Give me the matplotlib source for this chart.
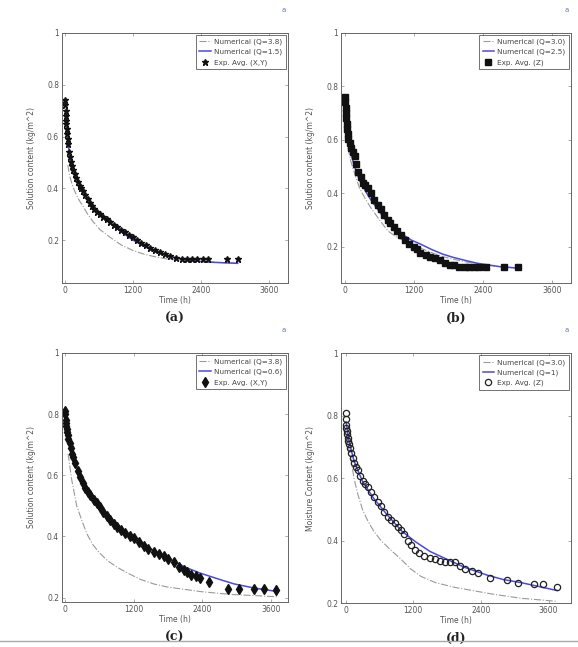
import matplotlib
matplotlib.use('Agg')
import matplotlib.pyplot as plt

# panel (a)
a_exp_t = [0, 5, 10, 15, 20, 25, 30, 40, 50, 60, 75, 90, 110, 130, 150, 175, 200, 230, 260, 290, 320, 360, 400, 440,
           480, 520, 570, 620, 680, 740, 800, 860, 920, 990, 1060, 1130, 1200, 1270, 1350, 1430, 1510, 1590, 1680,
           1770, 1860, 1960, 2060, 2150, 2250, 2330, 2430, 2520, 2860, 3050]
a_exp_y = [0.74, 0.72, 0.70, 0.68, 0.66, 0.65, 0.63, 0.61, 0.59, 0.57, 0.54, 0.52, 0.50, 0.485, 0.47, 0.455, 0.44, 0.425,
           0.41, 0.40, 0.39, 0.375, 0.36, 0.345, 0.33, 0.32, 0.31, 0.30, 0.29, 0.28, 0.27, 0.26, 0.25, 0.24, 0.23,
           0.22, 0.21, 0.20, 0.19, 0.18, 0.17, 0.16, 0.152, 0.145, 0.138, 0.132, 0.128, 0.125, 0.125, 0.125, 0.125,
           0.125, 0.125, 0.125]
a_low_t = [60, 100, 150, 200, 300, 400, 500, 600, 800, 1000, 1200, 1400, 1600, 1800, 2000, 2200, 2400, 2600, 2800, 3050]
a_low_y = [0.56, 0.52, 0.48, 0.45, 0.40, 0.36, 0.33, 0.305, 0.265, 0.23, 0.20, 0.175, 0.155, 0.14, 0.13, 0.122, 0.117,
           0.114, 0.112, 0.11]
a_high_t = [50, 80, 120, 160, 210, 260, 320, 400, 500, 620, 800, 1000, 1200, 1400, 1600, 1800, 2000, 2400, 2800, 3050]
a_high_y = [0.49, 0.45, 0.42, 0.395, 0.37, 0.35, 0.33, 0.30, 0.27, 0.24, 0.21, 0.18, 0.16, 0.145, 0.135, 0.127, 0.122,
            0.117, 0.113, 0.11]

# panel (b)
b_exp_t = [0, 5, 10, 15, 20, 30, 40, 50, 60, 80, 100, 130, 165, 190, 230, 270, 310, 350, 395, 450, 510, 570, 620, 680,
           740, 790, 850, 910, 980, 1050, 1120, 1195, 1250, 1310, 1400, 1480, 1560, 1650, 1740, 1820, 1900, 1990,
           2080, 2160, 2250, 2330, 2450, 2760, 3000]
b_exp_y = [0.76, 0.74, 0.72, 0.70, 0.68, 0.66, 0.64, 0.62, 0.605, 0.59, 0.57, 0.555, 0.54, 0.51, 0.48, 0.46, 0.44, 0.43,
           0.42, 0.40, 0.375, 0.355, 0.34, 0.32, 0.30, 0.29, 0.275, 0.26, 0.245, 0.225, 0.21, 0.20, 0.19, 0.177, 0.17,
           0.163, 0.156, 0.15, 0.14, 0.133, 0.13, 0.125, 0.125, 0.125, 0.125, 0.125, 0.125, 0.125, 0.125]
b_low_t = [50, 100, 165, 250, 350, 450, 600, 740, 900, 1150, 1310, 1500, 1700, 1880, 2100, 2300, 2450, 2700, 3000]
b_low_y = [0.60, 0.55, 0.50, 0.45, 0.41, 0.375, 0.33, 0.29, 0.26, 0.225, 0.21, 0.19, 0.172, 0.16, 0.148, 0.138, 0.133,
           0.125, 0.12]
b_high_t = [50, 100, 165, 250, 350, 450, 600, 740, 900, 1150, 1310, 1500, 1700, 1900, 2100, 2400, 2700, 3000]
b_high_y = [0.57, 0.52, 0.475, 0.42, 0.38, 0.345, 0.30, 0.26, 0.235, 0.21, 0.195, 0.178, 0.163, 0.152, 0.143, 0.133,
            0.125, 0.12]

# panel (c)
c_exp_t = [0, 5, 10, 15, 20, 30, 40, 50, 60, 80, 100, 118, 140, 176, 220, 264, 310, 352, 400, 440, 500, 557, 610, 670,
           730, 790, 850, 908, 980, 1055, 1130, 1200, 1290, 1375, 1460, 1550, 1640, 1725, 1810, 1900, 1990, 2075,
           2140, 2200, 2290, 2370, 2515, 2845, 3040, 3300, 3480, 3690]
c_exp_y = [0.81, 0.80, 0.78, 0.77, 0.76, 0.75, 0.74, 0.73, 0.72, 0.705, 0.69, 0.67, 0.66, 0.64, 0.615, 0.595, 0.575,
           0.56, 0.545, 0.535, 0.52, 0.51, 0.495, 0.48, 0.468, 0.455, 0.442, 0.43, 0.42, 0.41, 0.40, 0.395, 0.383,
           0.37, 0.36, 0.35, 0.343, 0.335, 0.325, 0.315, 0.30, 0.29, 0.283, 0.275, 0.27, 0.265, 0.25, 0.23, 0.23,
           0.228, 0.228, 0.225]
c_low_t = [60, 150, 250, 400, 600, 800, 1000, 1200, 1500, 1800, 2100, 2370, 2700, 2960, 3300, 3720]
c_low_y = [0.76, 0.66, 0.60, 0.545, 0.50, 0.46, 0.425, 0.395, 0.36, 0.33, 0.30, 0.28, 0.26, 0.245, 0.232, 0.22]
c_high_t = [55, 118, 205, 300, 380, 480, 610, 750, 908, 1100, 1320, 1550, 1790, 2100, 2370, 2700, 2960, 3300, 3720]
c_high_y = [0.67, 0.585, 0.50, 0.45, 0.41, 0.375, 0.345, 0.32, 0.30, 0.28, 0.26, 0.245, 0.235, 0.227, 0.22, 0.214,
            0.21, 0.207, 0.203]

# panel (d)
d_exp_t = [0, 5, 10, 15, 20, 30, 40, 50, 60, 75, 95, 125, 155, 185, 215, 260, 305, 345, 390, 450, 510, 570, 630, 690,
           750, 810, 870, 930, 985, 1045, 1105, 1165, 1225, 1310, 1400, 1490, 1580, 1670, 1760, 1850, 1940, 2030,
           2115, 2235, 2355, 2560, 2860, 3065, 3335, 3510, 3750]
d_exp_y = [0.81, 0.79, 0.77, 0.76, 0.75, 0.74, 0.73, 0.72, 0.71, 0.695, 0.68, 0.665, 0.65, 0.637, 0.625, 0.607, 0.59,
           0.58, 0.57, 0.555, 0.54, 0.525, 0.51, 0.493, 0.475, 0.465, 0.455, 0.445, 0.435, 0.42, 0.40, 0.385, 0.37,
           0.36, 0.35, 0.345, 0.34, 0.335, 0.33, 0.33, 0.33, 0.32, 0.31, 0.303, 0.295, 0.28, 0.275, 0.265, 0.26,
           0.26, 0.25]
d_low_t = [10, 60, 150, 300, 500, 750, 1000, 1250, 1500, 1800, 2100, 2500, 2800, 3120, 3450, 3750]
d_low_y = [0.78, 0.72, 0.655, 0.59, 0.535, 0.48, 0.43, 0.395, 0.365, 0.34, 0.315, 0.29, 0.275, 0.265, 0.252, 0.24]
d_high_t = [20, 60, 95, 150, 215, 300, 390, 500, 630, 800, 985, 1150, 1340, 1600, 1940, 2250, 2560, 2850, 3120, 3450,
            3750]
d_high_y = [0.74, 0.69, 0.66, 0.60, 0.55, 0.50, 0.465, 0.43, 0.40, 0.37, 0.34, 0.31, 0.285, 0.265, 0.25, 0.24, 0.23,
            0.222, 0.215, 0.21, 0.205]

x_ticks = [0, 1200, 2400, 3600]
y_ticks = [0.2, 0.4, 0.6, 0.8, 1]
y_ticklabels = ['0.2', '0.4', '0.6', '0.8', '1']

TXT = '#555555'


def drawPanel(ax, exp, low, high, labels, marker, ylabel, caption, ylim, xlim):
    "Draw one panel: grey numerical curve, blue numerical curve and the averaged experiment points"
    ax.plot(high[0], high[1], color='#9a9a9a', lw=0.8, ls='-.', label=labels[0])
    ax.plot(low[0], low[1], color='#4a4adf', lw=1.1, label=labels[1])
    if marker == 'o':
        ax.plot(exp[0], exp[1], ls='none', marker='o', ms=4.5, mfc='none', mec='#222222', mew=0.9, label=labels[2])
    else:
        ax.plot(exp[0], exp[1], ls='none', marker=marker, ms=5, color='#111111', label=labels[2])
    ax.set_xlim(*xlim)
    ax.set_ylim(*ylim)
    ax.set_xticks(x_ticks)
    ax.set_yticks(y_ticks)
    ax.set_yticklabels(y_ticklabels)
    ax.tick_params(direction='in', top=True, right=True, length=2.5, width=0.5, labelsize=5.5, colors='#888888',
                   labelcolor=TXT, pad=2)
    for s in ax.spines.values():
        s.set_color('#666666')
        s.set_linewidth(0.7)
    ax.set_xlabel('Time (h)', fontsize=5.5, color=TXT, labelpad=1)
    ax.set_ylabel(ylabel, fontsize=5.5, color=TXT, labelpad=8)
    leg = ax.legend(loc='upper right', fontsize=5.2, frameon=True, fancybox=False, borderaxespad=0.3,
                    handlelength=1.6, handletextpad=0.4, labelspacing=0.5, borderpad=0.5)
    leg.get_frame().set_edgecolor('#333333')
    leg.get_frame().set_linewidth(0.6)
    for t in leg.get_texts():
        t.set_color('#444444')
    ax.text(0.5, -0.115, caption, transform=ax.transAxes, ha='center', va='top', fontsize=9,
            fontweight='bold', family='DejaVu Serif', color='#222222')
    ax.text(0.99, 1.08, 'a', transform=ax.transAxes, ha='right', va='bottom', fontsize=5, color='#6677aa')


fig = plt.figure(figsize=(5.78, 6.47), dpi=100)
ax_a = fig.add_axes([0.107, 0.563, 0.391, 0.386])
ax_b = fig.add_axes([0.590, 0.563, 0.398, 0.386])
ax_c = fig.add_axes([0.107, 0.0696, 0.391, 0.385])
ax_d = fig.add_axes([0.590, 0.068, 0.398, 0.386])

drawPanel(ax_a, (a_exp_t, a_exp_y), (a_low_t, a_low_y), (a_high_t, a_high_y),
          ['Numerical (Q=3.8)', 'Numerical (Q=1.5)', 'Exp. Avg. (X,Y)'], '*',
          'Solution content (kg/m^2)', '(a)', (0.035, 1), (-55, 3935))
drawPanel(ax_b, (b_exp_t, b_exp_y), (b_low_t, b_low_y), (b_high_t, b_high_y),
          ['Numerical (Q=3.0)', 'Numerical (Q=2.5)', 'Exp. Avg. (Z)'], 's',
          'Solution content (kg/m^2)', '(b)', (0.065, 1), (-70, 3930))
drawPanel(ax_c, (c_exp_t, c_exp_y), (c_low_t, c_low_y), (c_high_t, c_high_y),
          ['Numerical (Q=3.8)', 'Numerical (Q=0.6)', 'Exp. Avg. (X,Y)'], 'd',
          'Solution content (kg/m^2)', '(c)', (0.186, 1), (-55, 3900))
drawPanel(ax_d, (d_exp_t, d_exp_y), (d_low_t, d_low_y), (d_high_t, d_high_y),
          ['Numerical (Q=3.0)', 'Numerical (Q=1)', 'Exp. Avg. (Z)'], 'o',
          'Moisture Content (kg/m^2)', '(d)', (0.2, 1), (-80, 4000))

# page rule under the lower captions
fig.add_artist(plt.Line2D([0, 1], [1 - 641 / 647, 1 - 641 / 647], color='#aaaaaa', lw=1))

fig.savefig('out.png', dpi=100)
